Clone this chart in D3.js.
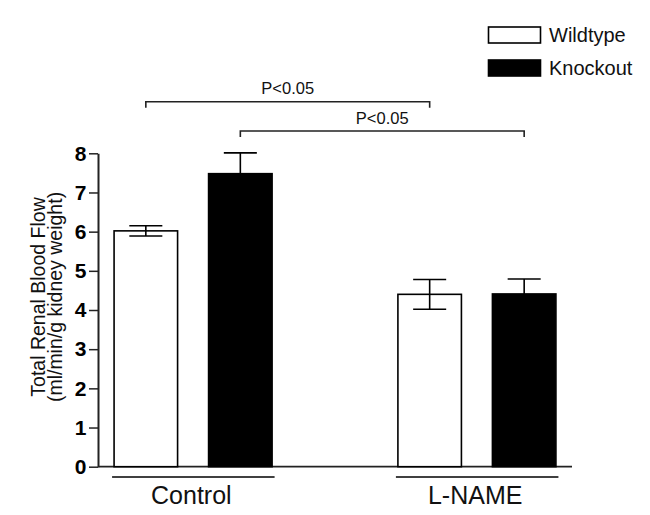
<!DOCTYPE html>
<html>
<head>
<meta charset="utf-8">
<script src="https://cdn.jsdelivr.net/npm/d3@7"></script>
<style>
  html, body { margin: 0; padding: 0; background: #fff; }
  svg { display: block; font-family: "Liberation Sans", Arial, Helvetica, sans-serif; }
</style>
</head>
<body>
<svg id="chart" width="650" height="515"></svg>
<script>
// ---- data ----
const groups = ["Control", "L-NAME"];
const series = ["Wildtype", "Knockout"];
const wildtypeMean = [6.02, 4.40];
const wildtypeErr  = [0.13, 0.38];
const knockoutMean = [7.48, 4.41];
const knockoutErr  = [0.53, 0.38];
const yTicks = [0, 1, 2, 3, 4, 5, 6, 7, 8];
const yTitle = ["Total Renal Blood Flow", "(ml/min/g kidney weight)"];
const comparisons = [
  { series: "Wildtype", from: "Control", to: "L-NAME", label: "P<0.05" },
  { series: "Knockout", from: "Control", to: "L-NAME", label: "P<0.05" }
];

const seriesData = {
  Wildtype: { mean: wildtypeMean, err: wildtypeErr, fill: "#ffffff" },
  Knockout: { mean: knockoutMean, err: knockoutErr, fill: "#000000" }
};
const rows = [];
groups.forEach((g, i) => series.forEach(s => rows.push({ group: g, series: s, value: seriesData[s].mean[i], err: seriesData[s].err[i] })));

const svg = d3.select("#chart");
const axisColor = "#222";

// ---- scales ----
const x0 = d3.scaleBand().domain(groups).range([98, 572]).paddingInner(0.4).paddingOuter(0.035);
const x1 = d3.scaleBand().domain(series).range([0, x0.bandwidth()]).paddingInner(0.328).paddingOuter(0.065);
const y = d3.scaleLinear().domain([0, 8]).range([466.7, 153.3]);
const barX = d => x0(d.group) + x1(d.series);
const barC = (g, s) => x0(g) + x1(s) + x1.bandwidth() / 2;

// ---- y axis ----
const yAxis = svg.append("g").attr("transform", "translate(98,0)")
  .call(d3.axisLeft(y).tickValues(yTicks).tickFormat(d3.format("d")).tickSize(9).tickPadding(2.5).tickSizeOuter(0));
yAxis.select(".domain").attr("stroke", axisColor).attr("stroke-width", 2);
yAxis.selectAll(".tick line").attr("stroke", axisColor).attr("stroke-width", 1.5);
yAxis.selectAll(".tick text").attr("fill", "#000").style("font-size", "21px").style("font-weight", "bold")
  .style("font-family", "'Liberation Sans', Arial, sans-serif");

// baseline
svg.append("line").attr("x1", 98).attr("x2", 572).attr("y1", y(0)).attr("y2", y(0))
  .attr("stroke", axisColor).attr("stroke-width", 1.8);

// y title
const yt = svg.append("text").attr("transform", `translate(45,297) rotate(-90)`)
  .attr("text-anchor", "middle").style("font-size", "19.5px").attr("fill", "#111");
yTitle.forEach((t, i) => yt.append("tspan").attr("x", 0).attr("dy", i === 0 ? 0 : 17).text(t));

// ---- bars ----
svg.append("g").selectAll("rect").data(rows).join("rect")
  .attr("x", barX).attr("width", x1.bandwidth())
  .attr("y", d => y(d.value)).attr("height", d => y(0) - y(d.value))
  .attr("fill", d => seriesData[d.series].fill)
  .attr("stroke", "#000").attr("stroke-width", 1.6);

// ---- error bars ----
const capW = x1.bandwidth() * 0.52;
const eb = svg.append("g").attr("stroke", "#000").attr("stroke-width", 1.6);
rows.forEach(d => {
  const cx = barX(d) + x1.bandwidth() / 2;
  eb.append("line").attr("x1", cx).attr("x2", cx).attr("y1", y(d.value - d.err)).attr("y2", y(d.value + d.err));
  eb.append("line").attr("x1", cx - capW / 2).attr("x2", cx + capW / 2).attr("y1", y(d.value + d.err)).attr("y2", y(d.value + d.err));
  eb.append("line").attr("x1", cx - capW / 2).attr("x2", cx + capW / 2).attr("y1", y(d.value - d.err)).attr("y2", y(d.value - d.err));
});

// ---- group underlines & labels ----
groups.forEach(g => {
  const left = x0(g) + x1(series[0]) - 2;
  const right = x0(g) + x1(series[series.length - 1]) + x1.bandwidth() + 2.5;
  svg.append("line").attr("x1", left).attr("x2", right).attr("y1", 477).attr("y2", 477)
    .attr("stroke", "#000").attr("stroke-width", 1.6);
  svg.append("text").attr("x", (left + right) / 2 - 2).attr("y", 504).attr("text-anchor", "middle")
    .style("font-size", "25px").attr("fill", "#111").text(g);
});

// ---- significance brackets ----
comparisons.forEach((c, i) => {
  const xa = barC(c.from, c.series), xb = barC(c.to, c.series);
  const by = 101.7 + i * 29.3;
  svg.append("path").attr("d", `M${xa},${by + 6}V${by}H${xb}V${by + 6}`)
    .attr("fill", "none").attr("stroke", "#222").attr("stroke-width", 1.6);
  svg.append("text").attr("x", (xa + xb) / 2).attr("y", by - 7.5).attr("text-anchor", "middle")
    .style("font-size", "16.5px").attr("fill", "#111").text(c.label);
});

// ---- legend ----
const lg = svg.append("g").attr("transform", "translate(488.5,27)");
series.forEach((s, i) => {
  lg.append("rect").attr("x", 0).attr("y", i * 33).attr("width", 52).attr("height", 16)
    .attr("fill", seriesData[s].fill).attr("stroke", "#000").attr("stroke-width", 1.6);
  lg.append("text").attr("x", 60.5).attr("y", i * 33 + 14.5).style("font-size", "20px").attr("fill", "#111").text(s);
});
</script>
</body>
</html>
